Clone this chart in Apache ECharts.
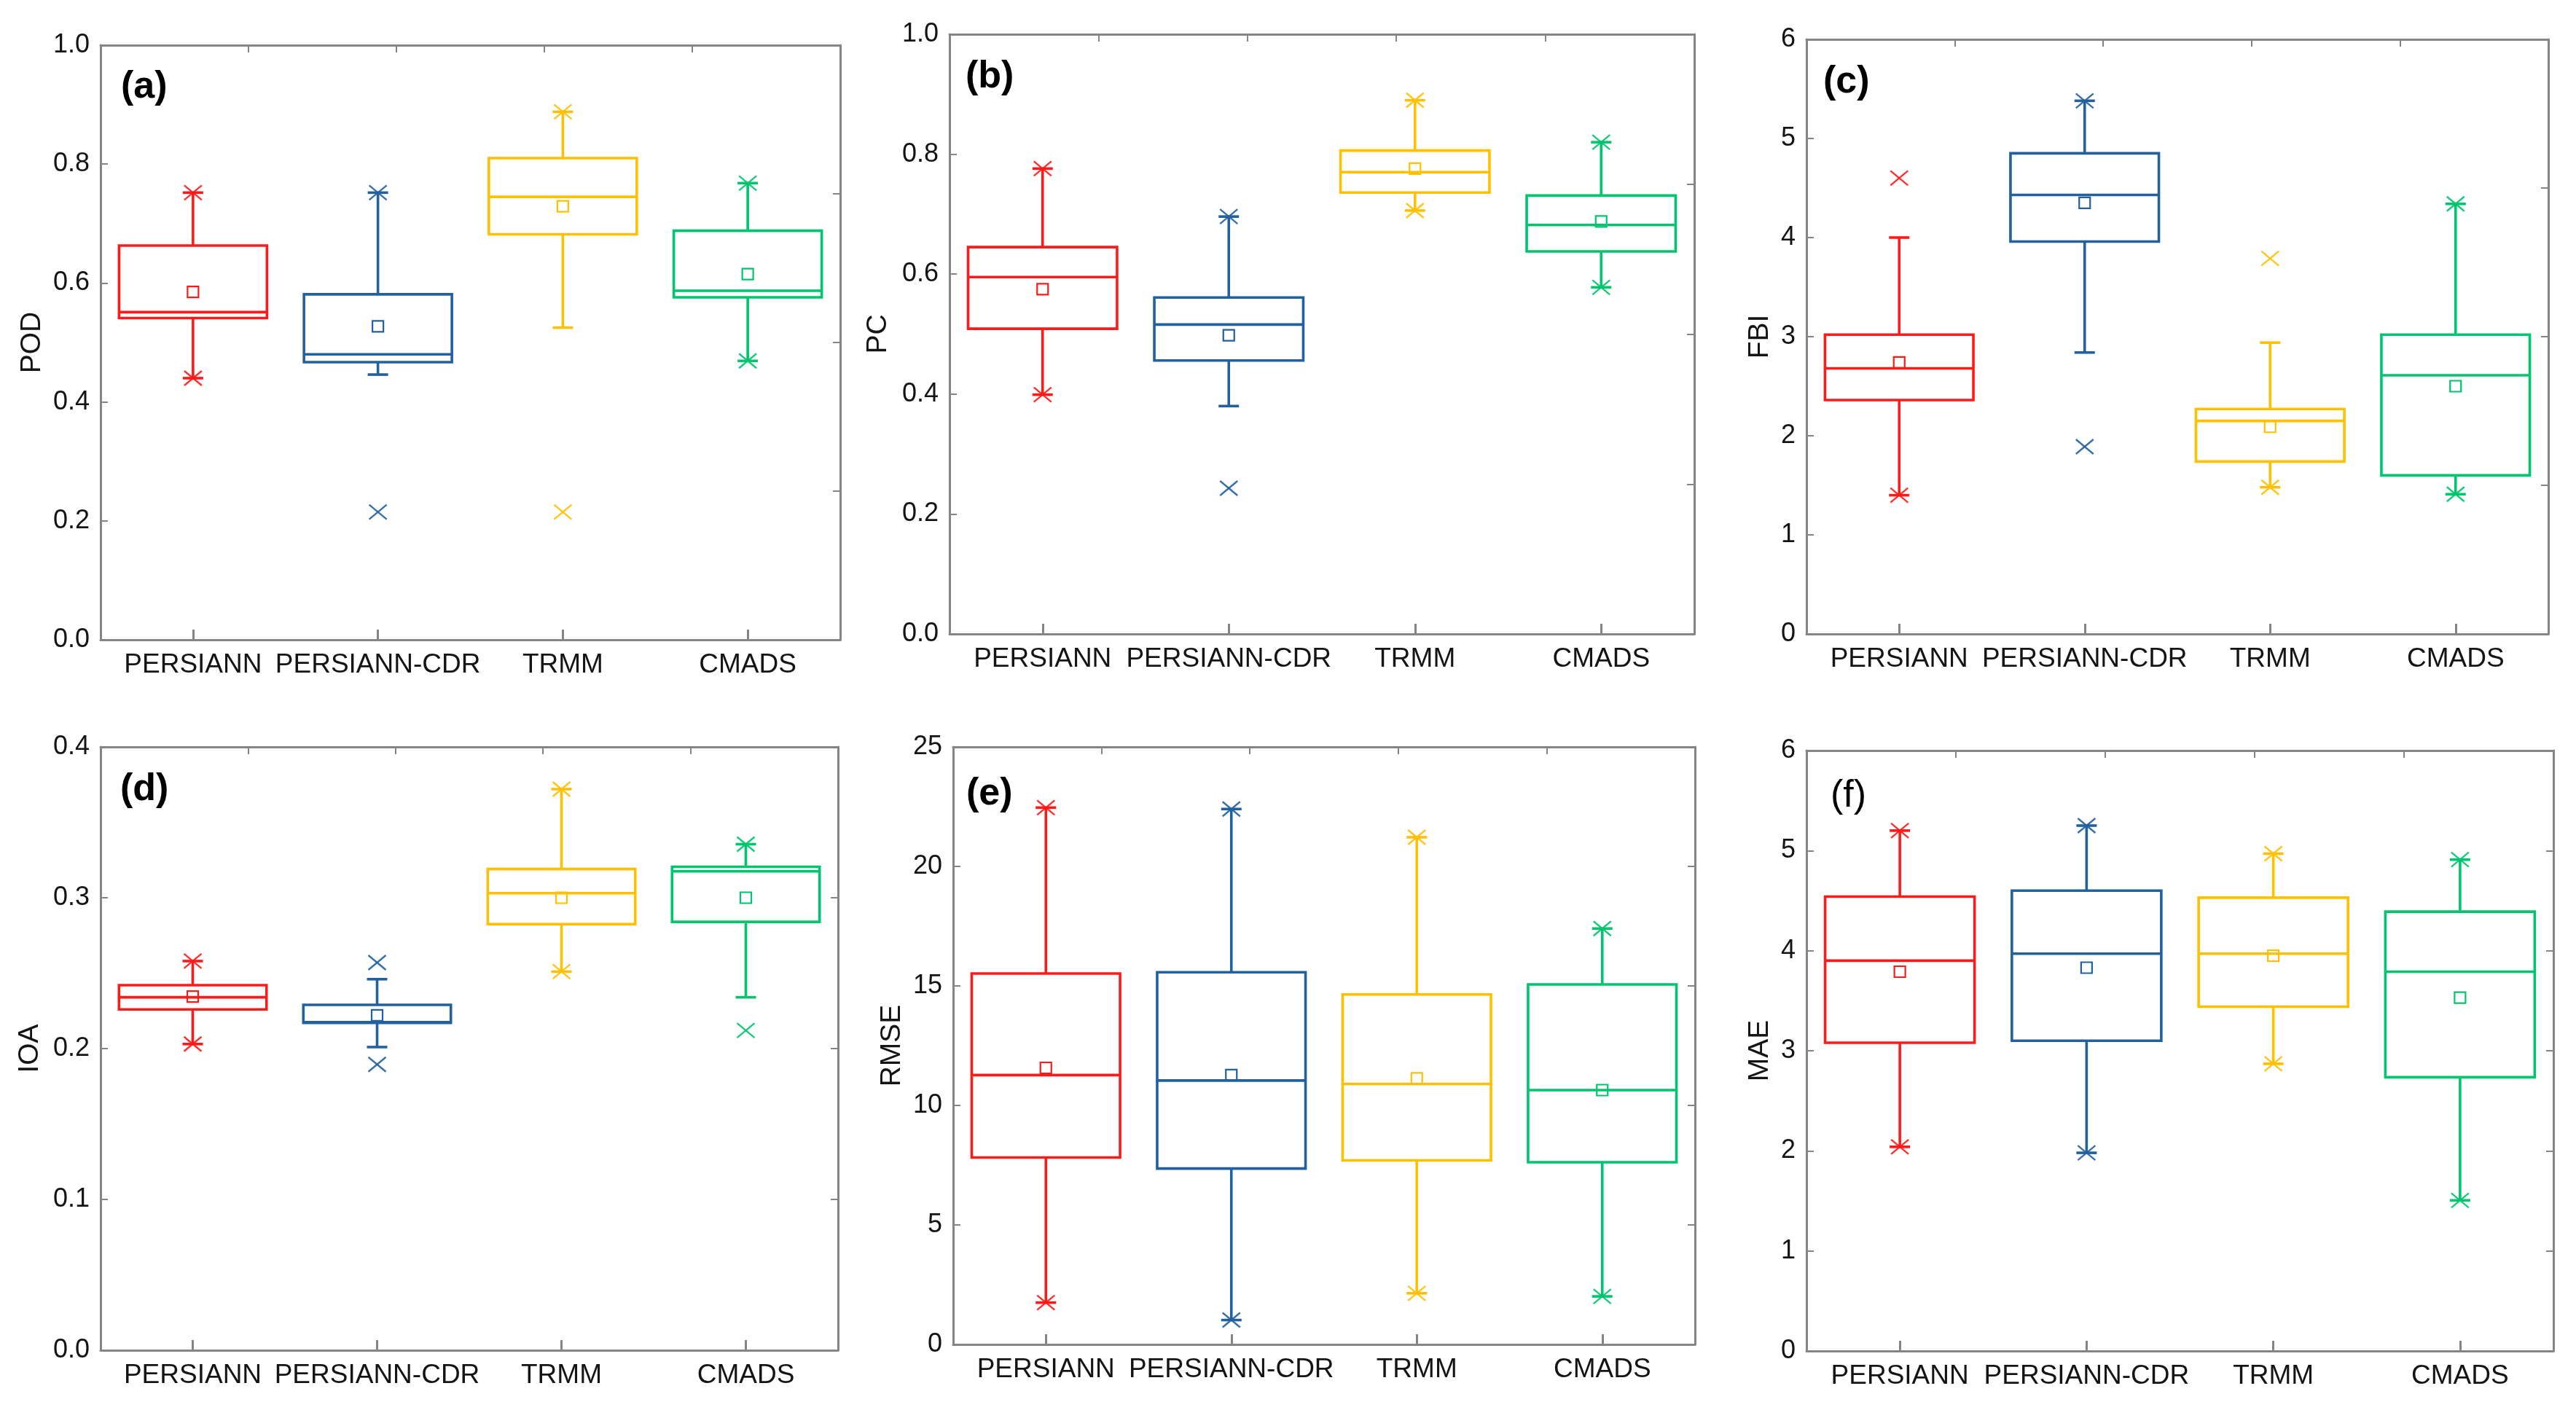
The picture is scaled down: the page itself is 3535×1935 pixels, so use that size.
<!DOCTYPE html>
<html>
<head>
<meta charset="utf-8">
<script src="https://cdn.jsdelivr.net/npm/echarts@6/dist/echarts.min.js"></script>
<style>
html,body{margin:0;padding:0;background:#fff;}
#chart{width:3535px;height:1935px;}
</style>
</head>
<body>
<div id="chart"></div>
<script>
// ---------------- DATA ----------------
const categories = ['PERSIANN', 'PERSIANN-CDR', 'TRMM', 'CMADS'];
const productColors = ['#FF1A1A', '#22609E', '#FFC000', '#00C46E'];

// each box: [lower whisker, Q1, median, Q3, upper whisker]
const podBox = [[0.440, 0.541, 0.551, 0.663, 0.752], [0.446, 0.467, 0.480, 0.581, 0.752], [0.525, 0.682, 0.745, 0.810, 0.888], [0.469, 0.576, 0.587, 0.688, 0.768]];
const podMean = [0.585, 0.527, 0.729, 0.615];
const podExtremes = [[0.752, 0.440], [0.752, 0.215], [0.888, 0.215], [0.768, 0.469]];

const pcBox = [[0.399, 0.509, 0.595, 0.645, 0.776], [0.380, 0.456, 0.516, 0.561, 0.696], [0.706, 0.736, 0.770, 0.806, 0.890], [0.578, 0.638, 0.682, 0.731, 0.820]];
const pcMean = [0.575, 0.498, 0.776, 0.688];
const pcExtremes = [[0.776, 0.399], [0.696, 0.243], [0.890, 0.706], [0.820, 0.578]];

const fbiBox = [[1.40, 2.36, 2.68, 3.02, 4.00], [2.84, 3.96, 4.43, 4.85, 5.38], [1.48, 1.74, 2.15, 2.27, 2.94], [1.41, 1.60, 2.61, 3.02, 4.34]];
const fbiMean = [2.74, 4.35, 2.09, 2.50];
const fbiExtremes = [[4.60, 1.40], [5.38, 1.89], [3.79, 1.48], [4.34, 1.41]];

const ioaBox = [[0.203, 0.226, 0.234, 0.242, 0.258], [0.201, 0.217, 0.2175, 0.229, 0.246], [0.251, 0.2825, 0.303, 0.319, 0.372], [0.234, 0.284, 0.3175, 0.3205, 0.3355]];
const ioaMean = [0.2345, 0.222, 0.300, 0.300];
const ioaExtremes = [[0.258, 0.203], [0.257, 0.1895], [0.372, 0.251], [0.3355, 0.212]];

const rmseBox = [[1.75, 7.82, 11.27, 15.52, 22.46], [1.02, 7.36, 11.04, 15.57, 22.40], [2.14, 7.70, 10.90, 14.64, 21.22], [2.01, 7.62, 10.64, 15.06, 17.40]];
const rmseMean = [11.57, 11.27, 11.13, 10.64];
const rmseExtremes = [[22.46, 1.75], [22.40, 1.02], [21.22, 2.14], [17.40, 2.01]];

const maeBox = [[2.04, 3.08, 3.90, 4.54, 5.20], [1.98, 3.10, 3.97, 4.60, 5.25], [2.87, 3.44, 3.97, 4.53, 4.97], [1.505, 2.735, 3.79, 4.39, 4.91]];
const maeMean = [3.79, 3.83, 3.95, 3.53];
const maeExtremes = [[5.20, 2.04], [5.25, 1.98], [4.97, 2.87], [4.91, 1.505]];

// axis settings per panel
const panelLabels = ['(a)', '(b)', '(c)', '(d)', '(e)', '(f)'];
const axisNames = ['POD', 'PC', 'FBI', 'IOA', 'RMSE', 'MAE'];
const yMax = [1.0, 1.0, 6, 0.4, 25, 6];
const yInterval = [0.2, 0.2, 1, 0.1, 5, 1];
const yRightInterval = [0.25, 0.25, 1.5, 0.1, 5, 1];
const yDecimals = [1, 1, 0, 1, 0, 0];

// ---------------- LAYOUT (px) ----------------
const panels = [
  {box: podBox, mean: podMean, ext: podExtremes, g: {left: 138, top: 62, width: 1015, height: 816}, nameGap: 74, lab: [166, 94], bold: true},
  {box: pcBox, mean: pcMean, ext: pcExtremes, g: {left: 1303, top: 47, width: 1022, height: 823}, nameGap: 78, lab: [1325, 80], bold: true},
  {box: fbiBox, mean: fbiMean, ext: fbiExtremes, g: {left: 2479, top: 54, width: 1018, height: 816}, nameGap: 44, lab: [2502, 87], bold: true},
  {box: ioaBox, mean: ioaMean, ext: ioaExtremes, g: {left: 138, top: 1025, width: 1012, height: 828}, nameGap: 77, lab: [165, 1058], bold: true},
  {box: rmseBox, mean: rmseMean, ext: rmseExtremes, g: {left: 1308, top: 1025, width: 1018, height: 820}, nameGap: 64, lab: [1326, 1064], bold: true},
  {box: maeBox, mean: maeMean, ext: maeExtremes, g: {left: 2479, top: 1030, width: 1025, height: 824}, nameGap: 44, lab: [2512, 1067], bold: false}
];

const FONT = 'Arial, "Liberation Sans", sans-serif';
const AXIS_COLOR = '#858585';
const TEXT_COLOR = '#141414';

function renderBox(params, api) {
  const j = api.value(0);
  const band = api.size([1, 0])[0];
  const bw = band * 0.8;
  const cx = api.coord([j, 0])[0];
  const py = k => api.coord([j, api.value(k)])[1];
  const col = productColors[j];
  const capW = 28;
  const ms = 15;
  const lw = 3.6;
  const yLow = py(1), yQ1 = py(2), yMed = py(3), yQ3 = py(4), yHigh = py(5), yMean = py(6);
  const st = {stroke: col, lineWidth: lw, fill: null};
  return {
    type: 'group',
    children: [
      {type: 'line', shape: {x1: cx, y1: yQ3, x2: cx, y2: yHigh}, style: st},
      {type: 'line', shape: {x1: cx, y1: yQ1, x2: cx, y2: yLow}, style: st},
      {type: 'line', shape: {x1: cx - capW / 2, y1: yHigh, x2: cx + capW / 2, y2: yHigh}, style: st},
      {type: 'line', shape: {x1: cx - capW / 2, y1: yLow, x2: cx + capW / 2, y2: yLow}, style: st},
      {type: 'rect', shape: {x: cx - bw / 2, y: yQ3, width: bw, height: yQ1 - yQ3}, style: {stroke: col, lineWidth: lw, fill: 'none'}},
      {type: 'line', shape: {x1: cx - bw / 2, y1: yMed, x2: cx + bw / 2, y2: yMed}, style: st},
      {type: 'rect', shape: {x: cx - ms / 2, y: yMean - ms / 2, width: ms, height: ms}, style: {stroke: col, lineWidth: 2.2, fill: 'none'}}
    ]
  };
}

function renderCross(params, api) {
  const j = api.value(0);
  const c = api.coord([j, api.value(1)]);
  const col = productColors[j];
  const hw = 12, hh = 10;
  const st = {stroke: col, lineWidth: 2.4, fill: null, opacity: 0.9};
  return {
    type: 'group',
    children: [
      {type: 'line', shape: {x1: c[0] - hw, y1: c[1] - hh, x2: c[0] + hw, y2: c[1] + hh}, style: st},
      {type: 'line', shape: {x1: c[0] - hw, y1: c[1] + hh, x2: c[0] + hw, y2: c[1] - hh}, style: st}
    ]
  };
}

const grid = [], xAxis = [], yAxis = [], series = [], graphic = [];
const lineStyle = {color: AXIS_COLOR, width: 3};

panels.forEach((p, i) => {
  grid.push(Object.assign({containLabel: false, show: false}, p.g));
  xAxis.push({
    type: 'category', gridIndex: i, data: categories, position: 'bottom',
    boundaryGap: true,
    axisLine: {show: true, lineStyle: lineStyle, onZero: false},
    axisTick: {show: true, inside: true, alignWithLabel: true, length: 14, lineStyle: lineStyle},
    axisLabel: {fontSize: 37, fontFamily: FONT, color: TEXT_COLOR, margin: 16, interval: 0},
    splitLine: {show: false}
  });
  xAxis.push({
    type: 'value', gridIndex: i, position: 'top', min: 0, max: 1, interval: 0.2,
    axisLine: {show: true, lineStyle: lineStyle, onZero: false},
    axisTick: {show: true, inside: true, length: 10, lineStyle: {color: AXIS_COLOR, width: 2}},
    axisLabel: {show: false}, splitLine: {show: false}
  });
  const dec = yDecimals[i];
  yAxis.push({
    type: 'value', gridIndex: i, position: 'left', min: 0, max: yMax[i], interval: yInterval[i],
    name: axisNames[i], nameLocation: 'middle', nameGap: p.nameGap,
    nameTextStyle: {fontSize: 39, fontFamily: FONT, color: TEXT_COLOR},
    axisLine: {show: true, lineStyle: lineStyle, onZero: false},
    axisTick: {show: true, inside: true, length: 10, lineStyle: {color: AXIS_COLOR, width: 2}},
    axisLabel: {fontSize: 36, fontFamily: FONT, color: TEXT_COLOR, margin: 15, formatter: v => v.toFixed(dec)},
    splitLine: {show: false}
  });
  yAxis.push({
    type: 'value', gridIndex: i, position: 'right', min: 0, max: yMax[i], interval: yRightInterval[i],
    axisLine: {show: true, lineStyle: lineStyle, onZero: false},
    axisTick: {show: true, inside: true, length: 10, lineStyle: {color: AXIS_COLOR, width: 2}},
    axisLabel: {show: false}, splitLine: {show: false}
  });
  const boxData = p.box.map((b, j) => [j, b[0], b[1], b[2], b[3], b[4], p.mean[j]]);
  series.push({
    type: 'custom', xAxisIndex: 2 * i, yAxisIndex: 2 * i, renderItem: renderBox,
    data: boxData, silent: true, animation: false, clip: false
  });
  const crossData = [];
  p.ext.forEach((arr, j) => arr.forEach(v => crossData.push([j, v])));
  series.push({
    type: 'custom', xAxisIndex: 2 * i, yAxisIndex: 2 * i, renderItem: renderCross,
    data: crossData, silent: true, animation: false, clip: false
  });
  graphic.push({
    type: 'text', left: p.lab[0], top: p.lab[1], silent: true,
    style: {text: panelLabels[i], font: (p.bold ? 'bold ' : '') + '52px ' + FONT, fill: '#000'}
  });
});

const chart = echarts.init(document.getElementById('chart'), null, {renderer: 'canvas'});
chart.setOption({
  backgroundColor: '#ffffff',
  animation: false,
  grid: grid, xAxis: xAxis, yAxis: yAxis, series: series, graphic: graphic
});
</script>
</body>
</html>
